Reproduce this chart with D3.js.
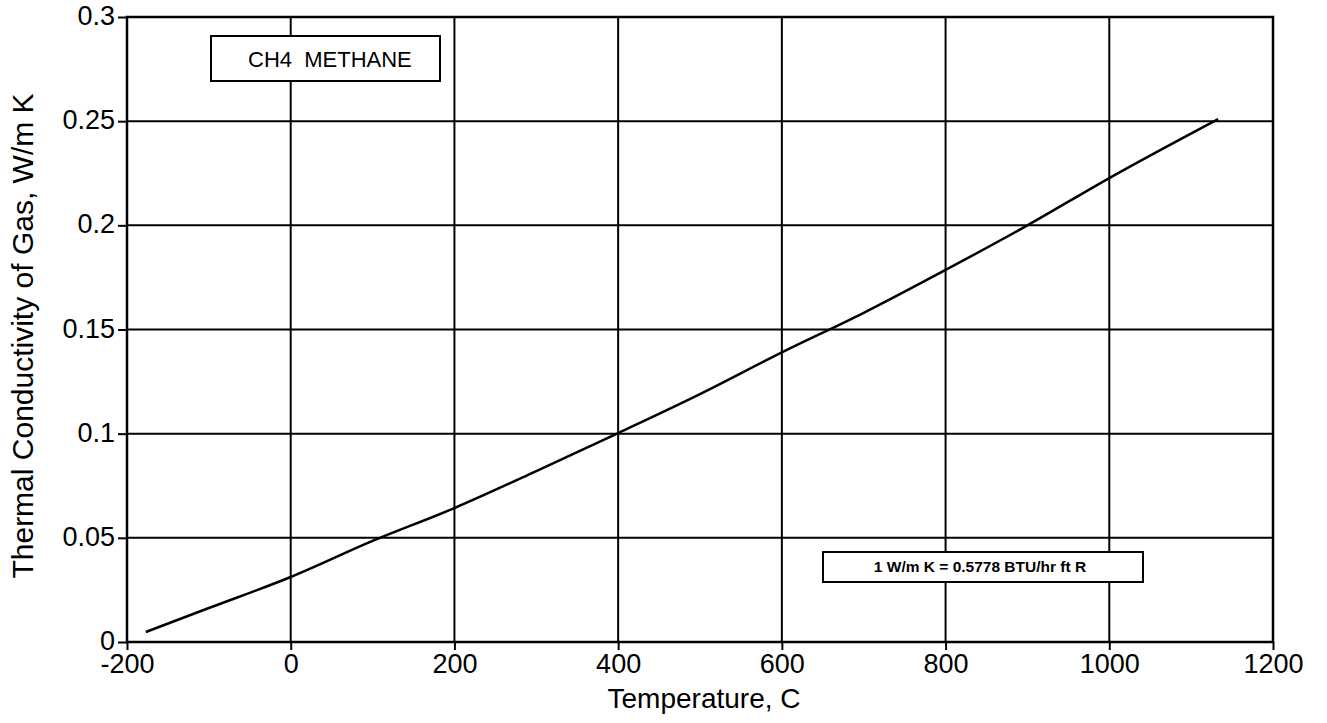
<!DOCTYPE html>
<html>
<head>
<meta charset="utf-8">
<script src="https://cdn.jsdelivr.net/npm/d3@7"></script>
<style>
  body { margin: 0; background: #fff; }
  svg text { font-family: Helvetica, Arial, 'Liberation Sans', sans-serif; fill: #000; }
</style>
</head>
<body>
<div id="chart"></div>
<script>
// Data: temperature (C) vs thermal conductivity (W/m K)
let temps = [-177, -100, 0, 100, 200, 300, 400, 500, 600, 700, 800, 900, 1000, 1133];
let conductivity = [0.0048, 0.0163, 0.0312, 0.0485, 0.0643, 0.082, 0.1003, 0.119, 0.139, 0.158, 0.1786, 0.2, 0.2227, 0.251];
let xTicks = [-200, 0, 200, 400, 600, 800, 1000, 1200];
let yTicks = [0, 0.05, 0.1, 0.15, 0.2, 0.25, 0.3];
let yTickLabels = ['0', '0.05', '0.1', '0.15', '0.2', '0.25', '0.3'];

let margin = { top: 17, right: 54, bottom: 81, left: 127 };
let width = 1327 - margin.left - margin.right;
let height = 723 - margin.top - margin.bottom;

let svg = d3.select('#chart')
  .append('svg')
  .attr('width', 1327)
  .attr('height', 723);

let g = svg.append('g')
  .attr('transform', 'translate(' + margin.left + ',' + margin.top + ')');

let xScale = d3.scaleLinear().domain([-200, 1200]).range([0, width]);
let yScale = d3.scaleLinear().domain([0, 0.3]).range([height, 0]);

// Grid lines
g.selectAll('.vgrid')
  .data(xTicks)
  .enter()
  .append('line')
  .attr('x1', d => xScale(d))
  .attr('x2', d => xScale(d))
  .attr('y1', 0)
  .attr('y2', height)
  .attr('stroke', '#000')
  .attr('stroke-width', 2);

g.selectAll('.hgrid')
  .data(yTicks)
  .enter()
  .append('line')
  .attr('x1', 0)
  .attr('x2', width)
  .attr('y1', d => yScale(d))
  .attr('y2', d => yScale(d))
  .attr('stroke', '#000')
  .attr('stroke-width', 2);

// Axes
let xAxis = d3.axisBottom(xScale).tickValues(xTicks).tickSize(8).tickPadding(4).tickFormat(d => String(d));
let yAxis = d3.axisLeft(yScale).tickValues(yTicks).tickSize(9).tickPadding(3)
  .tickFormat((d, i) => yTickLabels[i]);

let gx = g.append('g')
  .attr('transform', 'translate(0,' + height + ')')
  .call(xAxis);
let gy = g.append('g').call(yAxis);

[gx, gy].forEach(function(a) {
  a.attr('font-size', null);
  a.select('.domain').remove();
  a.selectAll('line').attr('stroke', '#000').attr('stroke-width', 2);
  a.selectAll('text')
    .style('font-size', '27px')
    .attr('fill', '#000');
});
gx.selectAll('text').attr('dy', '0.72em');
gy.selectAll('text').attr('dy', '0.28em');

// Frame
g.append('rect')
  .attr('x', 0)
  .attr('y', 0)
  .attr('width', width)
  .attr('height', height)
  .attr('fill', 'none')
  .attr('stroke', '#000')
  .attr('stroke-width', 2.5);

// Curve
let line = d3.line()
  .x((d, i) => xScale(temps[i]))
  .y(d => yScale(d))
  .curve(d3.curveMonotoneX);

g.append('path')
  .datum(conductivity)
  .attr('d', line)
  .attr('fill', 'none')
  .attr('stroke', '#000')
  .attr('stroke-width', 2.5);

// Label boxes
svg.append('rect')
  .attr('x', 211)
  .attr('y', 36)
  .attr('width', 229)
  .attr('height', 45)
  .attr('fill', '#fff')
  .attr('stroke', '#000')
  .attr('stroke-width', 2);
svg.append('text')
  .attr('x', 248)
  .attr('y', 59)
  .attr('dy', '0.35em')
  .style('font-size', '22px')
  .style('white-space', 'pre')
  .text('CH4  METHANE');

svg.append('rect')
  .attr('x', 823)
  .attr('y', 552)
  .attr('width', 320)
  .attr('height', 30)
  .attr('fill', '#fff')
  .attr('stroke', '#000')
  .attr('stroke-width', 2);
svg.append('text')
  .attr('x', 980)
  .attr('y', 567)
  .attr('dy', '0.35em')
  .attr('text-anchor', 'middle')
  .style('font-size', '15.5px')
  .style('font-weight', 'bold')
  .text('1 W/m K = 0.5778 BTU/hr ft R');

// Axis titles
svg.append('text')
  .attr('x', 704)
  .attr('y', 708)
  .attr('text-anchor', 'middle')
  .style('font-size', '28px')
  .text('Temperature, C');

svg.append('text')
  .attr('transform', 'translate(33,' + 336 + ') rotate(-90)')
  .attr('text-anchor', 'middle')
  .style('font-size', '30px')
  .text('Thermal Conductivity of Gas, W/m K');
</script>
</body>
</html>
